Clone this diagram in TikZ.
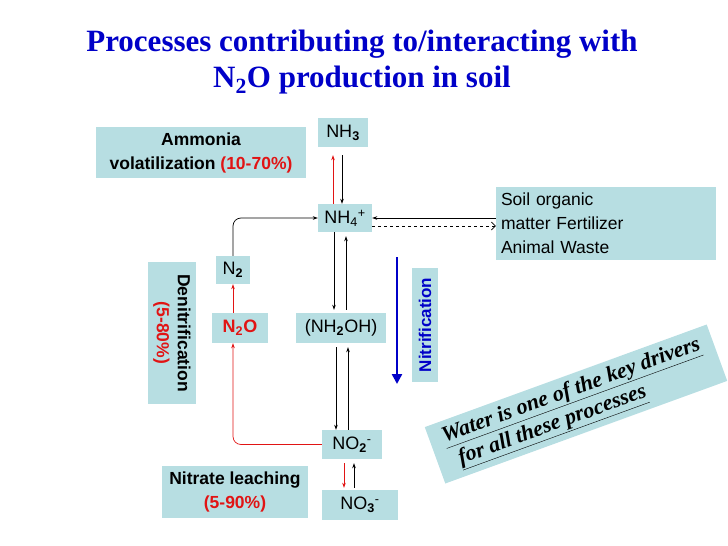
\documentclass[tikz,border=0pt]{standalone}
\usepackage{fontspec}
\setmainfont{Liberation Sans}
\newfontfamily\titlefont{Liberation Serif}
\usetikzlibrary{arrows.meta}
\definecolor{boxc}{RGB}{183,222,226}
\definecolor{ttl}{RGB}{0,0,200}
\definecolor{rd}{RGB}{225,20,20}
\begin{document}
\begin{tikzpicture}[x=1pt,y=-1pt,
  bx/.style={fill=boxc,inner sep=0pt,font=\fontsize{18}{20}\selectfont},
  ar/.style={-{Stealth[length=5pt,width=3.5pt]},line width=0.7pt},
  rar/.style={ar,rd}]
\useasboundingbox (0,0) rectangle (728,546);
\node[font=\titlefont\bfseries\fontsize{31}{36}\selectfont,text=ttl,align=center] (title) at (362,62)
  {Processes contributing to/interacting with\\N\textsubscript{2}O production in soil};
\node[bx,minimum width=210,minimum height=51,align=center,font=\bfseries\fontsize{17.5}{24}\selectfont] (amm) at (201,152.5)
  {Ammonia\\volatilization \textcolor{rd}{(10-70\%)}};
\node[bx,minimum width=50,minimum height=29] (nh3) at (343,132.5) {NH\textsubscript{\textbf{3}}};
\node[bx,minimum width=54,minimum height=28] (nh4) at (345,218) {NH\textsubscript{4}\textsuperscript{+}};
\node[bx,minimum width=220,minimum height=73,align=left,text width=210,font=\fontsize{17.5}{24}\selectfont] (soil) at (606,223.5)
  {Soil organic\\matter Fertilizer\\Animal Waste};
\node[bx,minimum width=34,minimum height=28] (n2) at (233,270) {N\textsubscript{\textbf{2}}};
\node[bx,minimum width=142,minimum height=48,rotate=-90,align=center,font=\bfseries\fontsize{17.5}{21}\selectfont] (den) at (172,333)
  {Denitrification\\\textcolor{rd}{(5-80\%)}};
\node[bx,minimum width=56,minimum height=30,text=rd,font=\bfseries\fontsize{18}{20}\selectfont] (n2o) at (240,328) {N\textsubscript{2}O};
\node[bx,minimum width=90,minimum height=30] (oh) at (341,328) {(NH\textsubscript{\textbf{2}}OH)};
\node[bx,minimum width=114,minimum height=26,rotate=90,text=ttl,font=\bfseries\fontsize{17}{19}\selectfont] (nit) at (425,325) {Nitrification};
\coordinate (ba) at (397,257);
\coordinate (bb) at (397,384);
\draw[-{Triangle[length=10pt,width=10pt]},line width=2.4pt,ttl] (ba) -- (bb);
\node[bx,minimum width=60,minimum height=29] (no2) at (352,444.5) {NO\textsubscript{\textbf{2}}\textsuperscript{-}};
\node[bx,minimum width=146,minimum height=52,align=center,font=\bfseries\fontsize{17.5}{24}\selectfont] (leach) at (235,492)
  {Nitrate leaching\\\textcolor{rd}{(5-90\%)}};
\node[bx,minimum width=76,minimum height=30] (no3) at (360,505) {NO\textsubscript{\textbf{3}}\textsuperscript{-}};
\node[bx,rotate=20,minimum width=300,minimum height=60,align=left,font=\titlefont\bfseries\itshape\fontsize{22}{26}\selectfont] (water) at (576,404)
  {\underline{Water is one of the key drivers}\\\hspace*{8pt}\underline{for all these processes}};
% arrows
\draw[rar] ([xshift=-12]nh4.north) -- ([xshift=-10,yshift=-8]nh3.south);
\draw[ar] ([xshift=-1,yshift=-8]nh3.south) -- ([xshift=-3]nh4.north);
\draw[ar,rounded corners=8] (n2.north) |- (nh4.west);
\draw[ar] (soil.west |- nh4.east) -- (nh4.east);
\draw[ar,dashed,-{Straight Barb[length=4pt]}] ([yshift=-8]nh4.east) -- ([yshift=-8]soil.west |- nh4.east);
\draw[ar] ([xshift=-11]nh4.south) -- ([xshift=-7,yshift=3]oh.north);
\draw[ar] ([xshift=5,yshift=3]oh.north) -- ([xshift=1,yshift=-4]nh4.south);
\draw[ar] ([xshift=-5,yshift=-4]oh.south) -- ([xshift=-16]no2.north);
\draw[ar] ([xshift=-4]no2.north) -- ([xshift=7,yshift=-4]oh.south);
\draw[rar,rounded corners=8] (no2.west) -| (n2o.south -| n2.south);
\draw[rar] (n2o.north -| n2.south) -- (n2.south);
\draw[rar] ([xshift=-8,yshift=-4]no2.south) -- ([xshift=-16,yshift=2]no3.north);
\draw[ar] ([xshift=-6,yshift=2]no3.north) -- ([xshift=2,yshift=-4]no2.south);
\end{tikzpicture}
\end{document}
